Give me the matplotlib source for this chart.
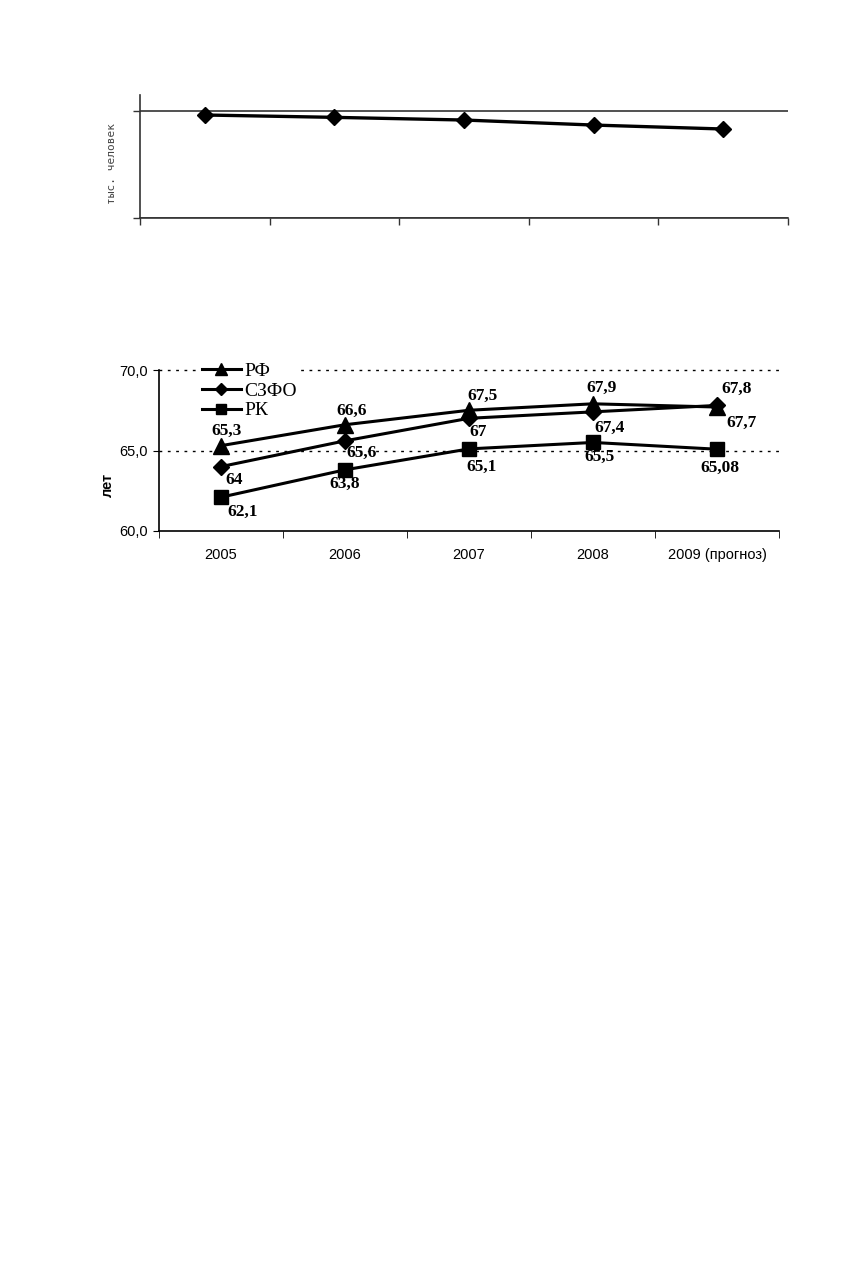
import matplotlib
matplotlib.use("Agg")
from matplotlib import pyplot as plt
from matplotlib.ticker import FuncFormatter

# верхний график: численность населения (значения не подписаны, оценка по рисунку)
pop_x = [0, 1, 2, 3, 4]
pop_values = [696.3, 694.1, 691.6, 686.9, 683.2]

# нижний график: ожидаемая продолжительность жизни
years = ["2005", "2006", "2007", "2008", "2009 (прогноз)"]
rf = [65.3, 66.6, 67.5, 67.9, 67.7]
szfo = [64.0, 65.6, 67.0, 67.4, 67.8]
rk = [62.1, 63.8, 65.1, 65.5, 65.08]
rf_labels = ["65,3", "66,6", "67,5", "67,9", "67,7"]
szfo_labels = ["64", "65,6", "67", "67,4", "67,8"]
rk_labels = ["62,1", "63,8", "65,1", "65,5", "65,08"]

# смещения подписей, в пикселях (dx вправо, dy вниз)
rf_off = [(6, -15), (7, -14), (13, -14), (9, -16), (24, 16)]
szfo_off = [(13, 13), (17, 12), (9, 14), (17, 16), (20, -17)]
rk_off = [(22, 15), (0, 14), (13, 18), (6, 14), (3, 19)]

W, H = 856, 1268
fig = plt.figure(figsize=(W / 100, H / 100), dpi=100)

# ---------- верхний график ----------
ax1 = fig.add_axes([140 / W, 1 - 218 / H, (788 - 140) / W, (218 - 95) / H])
ax1.plot(pop_x, pop_values, color="black", lw=2.4, marker="D", ms=8, zorder=3)
ax1.set_xlim(-0.5, 4.5)
ax1.set_ylim(600, 715)
ax1.set_yticks([600, 700])
ax1.set_yticklabels([])
ax1.set_xticks([-0.5, 0.5, 1.5, 2.5, 3.5, 4.5])
ax1.set_xticklabels([])
ax1.tick_params(direction="out", length=5, width=1, color="#333333")
ax1.grid(axis="y", color="#333333", lw=1.2)
for s in ["top", "right"]:
    ax1.spines[s].set_visible(False)
for s in ["left", "bottom"]:
    ax1.spines[s].set_color("#333333")
    ax1.spines[s].set_linewidth(1.2)
ax1.set_ylabel("тыс. человек", family="DejaVu Sans Mono", fontsize=8, color="#444444")
ax1.yaxis.set_label_coords((117 - 140) / (788 - 140), (218 - 163) / 123)

# ---------- нижний график ----------
ax = fig.add_axes([159 / W, 1 - 531 / H, 620 / W, 161 / H])
x = list(range(len(years)))
ax.plot(x, rf, color="black", lw=2.2, marker="^", ms=11, label="РФ", zorder=3)
ax.plot(x, szfo, color="black", lw=2.2, marker="D", ms=8, label="СЗФО", zorder=3)
ax.plot(x, rk, color="black", lw=2.2, marker="s", ms=10, label="РК", zorder=3)

for vals, labs, offs in [(rf, rf_labels, rf_off), (szfo, szfo_labels, szfo_off),
                         (rk, rk_labels, rk_off)]:
    for xi, v, t, (dx, dy) in zip(x, vals, labs, offs):
        ax.annotate(t, (xi, v), xytext=(dx * 0.72, -dy * 0.72), textcoords="offset points",
                    ha="center", va="center", family="Liberation Serif",
                    fontweight="bold", fontsize=12.5, zorder=4)

ax.set_xlim(-0.5, 4.5)
ax.set_ylim(60, 70)
ax.set_yticks([60, 65, 70])
ax.yaxis.set_major_formatter(FuncFormatter(lambda v, p: f"{v:.1f}".replace(".", ",")))
ax.set_xticks(x)
ax.set_xticklabels(years)
ax.set_xticks([-0.5, 0.5, 1.5, 2.5, 3.5, 4.5], minor=True)
ax.tick_params(axis="x", which="major", length=0, pad=12)
ax.tick_params(axis="x", which="minor", length=5, direction="out")
ax.tick_params(axis="y", length=4, direction="out", pad=4)
for lab in ax.get_xticklabels() + ax.get_yticklabels():
    lab.set_family("Liberation Sans")
    lab.set_fontsize(10.5)
for s in ["top", "right"]:
    ax.spines[s].set_visible(False)
ax.spines["left"].set_linewidth(1.2)
ax.spines["bottom"].set_linewidth(1.2)
for yv in [65, 70]:
    ax.axhline(yv, color="black", lw=1, ls=(0, (2, 4)), zorder=1, clip_on=False)

ax.set_ylabel("лет", family="Liberation Sans", fontsize=10.5, fontweight="bold")
ax.yaxis.set_label_coords((115 - 159) / 620, (531 - 485) / 161)

leg = ax.legend(loc="upper left", bbox_to_anchor=((200 - 159) / 620, (531 - 360) / 161),
                frameon=True, fancybox=False, edgecolor="none", facecolor="white", framealpha=1,
                prop={"family": "Liberation Serif", "size": 14}, handlelength=2.0,
                handletextpad=0.2, labelspacing=0.12, borderpad=0.1, borderaxespad=0,
                markerscale=0.75)
leg.set_zorder(2)

fig.savefig("out.png", dpi=100)
